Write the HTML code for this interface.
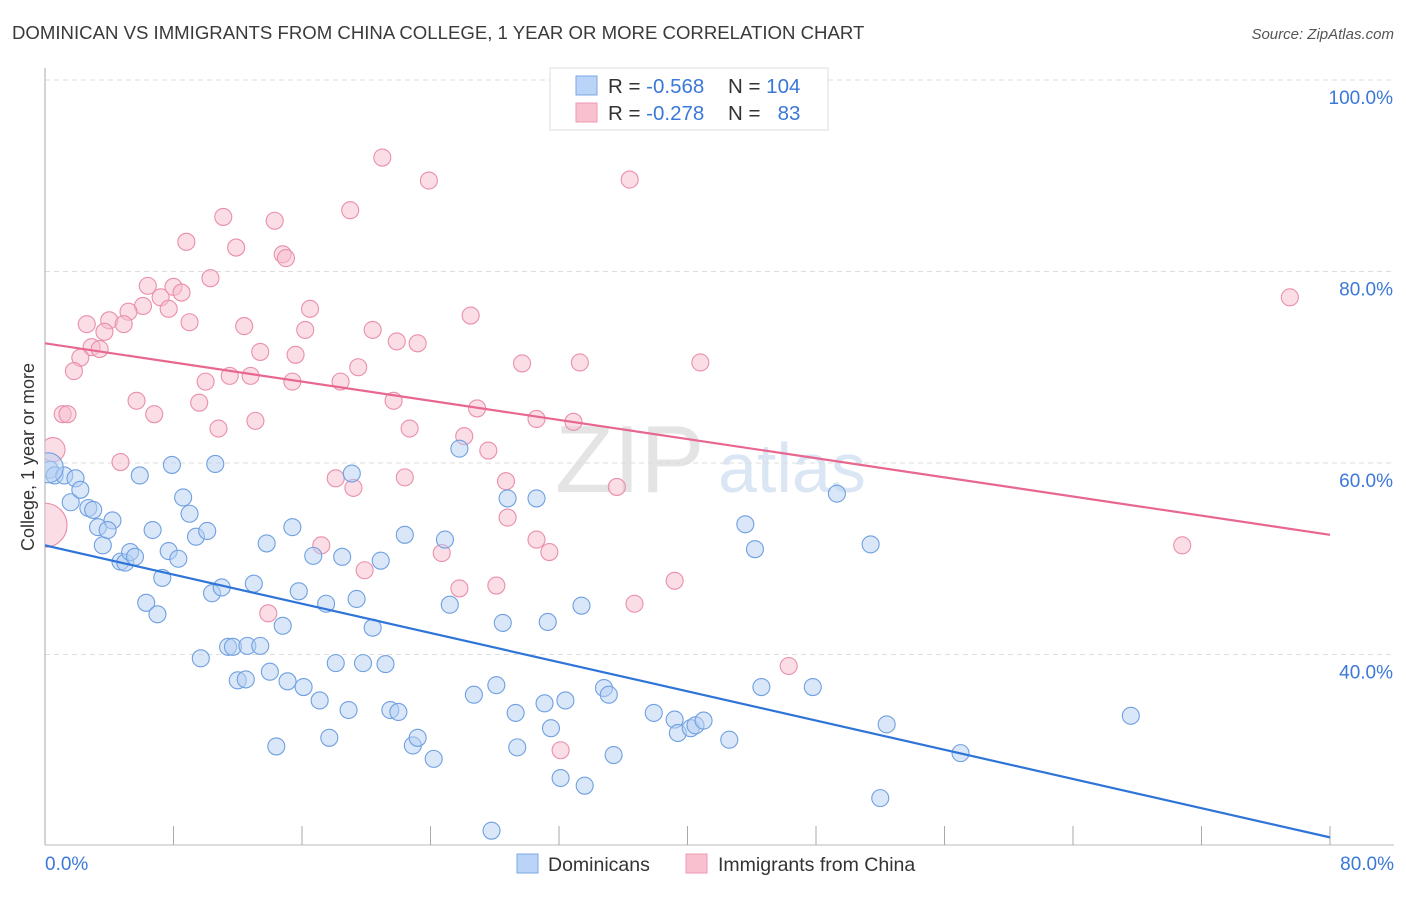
<!DOCTYPE html>
<html><head><meta charset="utf-8"><style>
body{margin:0;background:#fff;font-family:"Liberation Sans",sans-serif}
svg text{font-family:"Liberation Sans",sans-serif}
</style></head><body>
<svg id="chart" width="1406" height="892" xmlns="http://www.w3.org/2000/svg">
<defs><clipPath id="plotclip"><rect x="45" y="60" width="1360" height="786"/></clipPath></defs>
<text x="12" y="39" font-size="18.6" fill="#3a3a3a">DOMINICAN VS IMMIGRANTS FROM CHINA COLLEGE, 1 YEAR OR MORE CORRELATION CHART</text>
<text x="1394" y="39" font-size="15" fill="#555" text-anchor="end" font-style="italic">Source: ZipAtlas.com</text>
<text x="555" y="492" font-size="96" fill="#e4e4e4" font-family="Liberation Serif">ZIP</text>
<text x="718" y="492" font-size="70" fill="#dbe6f5">atlas</text>
<g id="grid"></g>
<g id="marks" clip-path="url(#plotclip)"></g>
<text transform="translate(34,457) rotate(-90)" font-size="18" fill="#333" text-anchor="middle">College, 1 year or more</text>
<g>
<rect x="550" y="68" width="278" height="62" fill="#fff" stroke="#ddd"/>
<rect x="576" y="76" width="21" height="19" fill="#b9d4f7" stroke="#7aa9e6"/>
<rect x="576" y="103" width="21" height="19" fill="#f9c0d0" stroke="#eb9ab2"/>
<text x="608" y="93" font-size="20.5" fill="#333">R = <tspan fill="#3b78d8">-0.568</tspan></text>
<text x="728" y="93" font-size="20.5" fill="#333">N = <tspan fill="#3b78d8">104</tspan></text>
<text x="608" y="120" font-size="20.5" fill="#333">R = <tspan fill="#3b78d8">-0.278</tspan></text>
<text x="728" y="120" font-size="20.5" fill="#333">N = <tspan fill="#3b78d8">&#160;&#160;83</tspan></text>
</g>
<g>
<rect x="517" y="854" width="21" height="19" fill="#b9d4f7" stroke="#7aa9e6"/>
<text x="548" y="871" font-size="19.5" fill="#333">Dominicans</text>
<rect x="686" y="854" width="21" height="19" fill="#f9c0d0" stroke="#eb9ab2"/>
<text x="718" y="871" font-size="19.5" fill="#333">Immigrants from China</text>
</g>
</svg>
<script>
const blueX=[0.3,0.6,1.2,1.9,1.6,2.2,2.7,3.0,3.3,4.2,3.6,3.9,4.7,5.0,5.3,5.6,5.9,6.7,7.3,6.3,7.0,7.7,7.9,8.3,8.6,9.0,9.4,10.1,10.6,10.4,11.0,9.7,11.4,11.7,12.0,12.5,13.0,12.6,13.4,13.8,14.0,14.8,14.4,15.1,15.4,15.8,16.1,16.7,17.1,17.5,17.7,18.1,18.5,18.9,19.1,19.4,19.8,20.4,20.9,21.2,21.5,22.0,22.4,22.9,23.2,24.2,24.9,25.2,25.8,26.7,28.1,28.5,28.8,29.3,29.4,30.6,31.1,31.3,31.5,32.1,32.4,33.4,33.6,34.8,35.1,35.4,37.9,39.2,39.4,40.2,40.5,41.0,42.6,43.6,44.2,44.6,47.8,49.3,51.4,52.4,52.0,57.0,67.6,27.8];
const blueY=[59.3,58.7,58.7,58.4,55.9,57.2,55.3,55.1,53.3,54.0,51.4,53.0,49.7,49.6,50.7,50.2,58.7,53.0,48.0,45.4,44.2,50.8,59.8,50.0,56.4,54.7,52.3,52.9,59.9,46.4,47.0,39.6,40.8,40.8,37.3,37.4,47.4,40.9,40.9,51.6,38.2,43.0,30.4,37.2,53.3,46.6,36.6,50.3,35.2,45.3,31.3,39.1,50.2,34.2,58.9,45.8,39.1,42.8,49.8,39.0,34.2,34.0,52.5,30.5,31.3,29.1,52.0,45.2,61.5,35.8,36.8,43.3,56.3,33.9,30.3,56.3,34.9,43.4,32.3,27.1,35.2,45.1,26.3,36.5,35.8,29.5,33.9,33.2,31.8,32.3,32.6,33.1,31.1,53.6,51.0,36.6,36.6,56.8,51.5,32.7,25.0,29.7,33.6,21.6];
const pinkX=[21.0,23.9,36.4,11.1,14.3,19.0,8.8,11.9,14.8,15.0,10.3,6.4,8.0,7.2,8.5,6.1,5.2,7.7,4.0,2.6,4.9,9.0,12.4,16.5,16.2,20.4,3.7,2.9,3.4,2.2,1.8,13.4,15.6,21.9,23.2,26.5,29.7,33.3,40.8,10.0,11.5,12.8,15.4,18.4,19.5,5.7,9.6,21.7,1.1,1.4,6.8,13.1,10.8,22.7,26.9,30.6,32.9,26.1,27.6,4.7,18.1,19.2,22.4,28.7,35.6,28.8,30.6,17.2,24.7,31.4,19.9,25.8,28.1,39.2,36.7,13.9,46.3,32.1,77.5,70.8];
const pinkY=[91.9,89.5,89.6,85.7,85.3,86.4,83.1,82.5,81.8,81.4,79.3,78.5,78.4,77.3,77.8,76.4,75.8,76.1,74.9,74.5,74.5,74.7,74.3,76.1,73.9,73.9,73.7,72.1,71.9,71.0,69.6,71.6,71.3,72.7,72.5,75.4,70.4,70.5,70.5,68.5,69.1,69.1,68.5,68.5,70.0,66.5,66.3,66.5,65.1,65.1,65.1,64.4,63.6,63.6,65.7,64.6,64.3,62.8,61.3,60.1,58.4,57.4,58.5,58.1,57.5,54.3,52.0,51.4,50.6,50.7,48.8,46.9,47.2,47.7,45.3,44.3,38.8,30.0,77.3,51.4];
const bigBlue=[[0.2,59.5,15]];
const bigPink=[[0.5,61.4,12],[0.0,53.5,22]];
const blueTrend=[51.4,20.9];
const pinkTrend=[72.5,52.5];
const yTicks=[100,80,60,40];
const yTickLabels=["100.0%","80.0%","60.0%","40.0%"];
const xTickVals=[0,8,16,24,32,40,48,56,64,72,80];

const X0=45,X1=1330,XMAX=80;
const sx=v=>X0+v/XMAX*(X1-X0);
const sy=v=>80+(100-v)*9.575;
const NS="http://www.w3.org/2000/svg";
function mk(tag,attrs,parent){const e=document.createElementNS(NS,tag);for(const k in attrs)e.setAttribute(k,attrs[k]);parent.appendChild(e);return e;}
const grid=document.getElementById('grid'),marks=document.getElementById('marks');
yTicks.forEach((t,i)=>{
  const l=mk('line',{x1:45,x2:1394,y1:sy(t),y2:sy(t),stroke:'#ddd','stroke-dasharray':'5,4'},grid);
  
  
  const tx=mk('text',{x:1393,y:sy(t)+24,'font-size':19,fill:'#3b78d8','text-anchor':'end'},grid);
  tx.textContent=yTickLabels[i];
  
  
});
const ax=mk('line',{x1:45,x2:45,y1:68,y2:845,stroke:'#aaa'},grid);


const bx=mk('line',{x1:45,x2:1394,y1:845,y2:845,stroke:'#bbb'},grid);


xTickVals.forEach(v=>{
  const t=mk('line',{x1:sx(v),x2:sx(v),y1:826,y2:845,stroke:'#aaa'},grid);
  
  
});
const xl0=mk('text',{x:45,y:870,'font-size':19,fill:'#3b78d8'},grid);xl0.textContent='0.0%';


const xl1=mk('text',{x:1394,y:870,'font-size':19,fill:'#3b78d8','text-anchor':'end'},grid);xl1.textContent='80.0%';


function dot(x,y,r,fill,stroke,name){
  const c=mk('circle',{cx:sx(x),cy:sy(y),r:r,fill:fill,'fill-opacity':0.5,stroke:stroke,'stroke-width':1.1},marks);
  
  
}
pinkX.forEach((x,i)=>dot(x,pinkY[i],8.5,'#f7bccd','#e98fab','china-point'));
bigPink.forEach(p=>dot(p[0],p[1],p[2],'#f7bccd','#e98fab','china-point-large'));
blueX.forEach((x,i)=>dot(x,blueY[i],8.5,'#b5d0f4','#6fa0e0','dominican-point'));
bigBlue.forEach(p=>dot(p[0],p[1],p[2],'#b5d0f4','#6fa0e0','dominican-point-large'));
const bl=mk('line',{x1:sx(0),y1:sy(blueTrend[0]),x2:sx(80),y2:sy(blueTrend[1]),stroke:'#2f74d8','stroke-width':2.2},marks);


const pl=mk('line',{x1:sx(0),y1:sy(pinkTrend[0]),x2:sx(80),y2:sy(pinkTrend[1]),stroke:'#e8678f','stroke-width':2.2},marks);


</script>
</body></html>
